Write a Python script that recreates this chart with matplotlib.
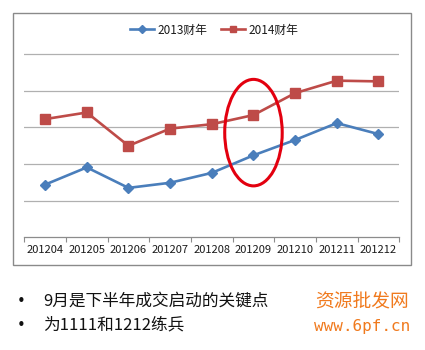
import matplotlib
matplotlib.use("Agg")
import matplotlib.pyplot as plt
from matplotlib.patches import Ellipse, Rectangle
from matplotlib.lines import Line2D
from matplotlib.ticker import FixedLocator, NullFormatter, FixedFormatter

plt.rcParams['font.family'] = ['Noto Sans CJK SC', 'DejaVu Sans']

categories = ['201204', '201205', '201206', '201207', '201208',
              '201209', '201210', '201211', '201212']
fy2013 = [1.44, 1.91, 1.35, 1.49, 1.76, 2.24, 2.66, 3.12, 2.82]
fy2014 = [3.23, 3.41, 2.50, 2.97, 3.09, 3.34, 3.94, 4.28, 4.26]
series_names = ['2013财年', '2014财年']
bullets = ['9月是下半年成交启动的关键点', '为1111和1212练兵']
watermark = ['资源批发网', 'www.6pf.cn']
highlight_index = 5

W, H = 425, 350
fig = plt.figure(figsize=(W / 100, H / 100), dpi=100)
fig.patch.set_facecolor('white')

def fx(px):
    return px / W

def fy(py):
    return 1 - py / H

# chart border
fig.patches.append(Rectangle((fx(13), fy(265)), fx(411) - fx(13), fy(13) - fy(265),
                             transform=fig.transFigure, fill=False,
                             edgecolor='#8a8a8a', linewidth=1.0))

ymax = 5.2
ax_left, ax_right = 24.3, 399.3
ax_bottom = 237.3
unit = (237.3 - 54.3) / 5
ax_top = ax_bottom - unit * ymax
ax = fig.add_axes([fx(ax_left), fy(ax_bottom), fx(ax_right) - fx(ax_left),
                   fy(ax_top) - fy(ax_bottom)])
ax.set_facecolor('none')

x = list(range(len(categories)))
ax.plot(x, fy2013, color='#4a7ebb', linewidth=1.9, marker='D', markersize=5.5,
        markerfacecolor='#4a7ebb', markeredgecolor='#4a7ebb', zorder=3)
ax.plot(x, fy2014, color='#be4b48', linewidth=1.9, marker='s', markersize=6.5,
        markerfacecolor='#be4b48', markeredgecolor='#be4b48', zorder=3)

ax.set_xlim(-0.5, len(categories) - 0.5)
ax.set_ylim(0, ymax)

for gy in range(1, 6):
    ax.axhline(gy, color='#b0b0b0', linewidth=0.9, zorder=1)

for s in ['top', 'right', 'left']:
    ax.spines[s].set_visible(False)
ax.spines['bottom'].set_color('#8c8c8c')
ax.spines['bottom'].set_linewidth(0.9)
ax.set_yticks([])

ax.xaxis.set_major_locator(FixedLocator([i - 0.5 for i in range(len(categories) + 1)]))
ax.xaxis.set_major_formatter(NullFormatter())
ax.xaxis.set_minor_locator(FixedLocator(x))
ax.xaxis.set_minor_formatter(FixedFormatter(categories))
ax.tick_params(axis='x', which='major', length=3.5, width=0.8, color='#8c8c8c', direction='out')
ax.tick_params(axis='x', which='minor', length=0, labelsize=8, pad=5.5, labelcolor='#1a1a1a')

# highlight ellipse
ax.add_patch(Ellipse((highlight_index, 2.86), 1.38, 2.91, fill=False,
                     edgecolor='#e3000f', linewidth=2.2, zorder=4, clip_on=False))

# legend
handles = [Line2D([], [], color='#4a7ebb', marker='D', markersize=4, linewidth=1.9),
           Line2D([], [], color='#be4b48', marker='s', markersize=5, linewidth=1.9)]
fig.legend(handles, series_names, loc='center', bbox_to_anchor=(fx(214), fy(30)),
           ncol=2, frameon=False, fontsize=8.5, handlelength=2.0, handletextpad=0.3,
           columnspacing=1.2, labelcolor='#1a1a1a')

# bullets
for i, t in enumerate(bullets):
    yy = fy(301.5 + i * 23.5)
    fig.text(fx(21.5), yy, '•', fontsize=10.5, va='center', ha='center', color='#111111',
             family=['DejaVu Sans'])
    fig.text(fx(43), yy, t, fontsize=12, va='center', ha='left', color='#111111')

fig.text(fx(362), fy(302), watermark[0], fontsize=13.5, va='center', ha='center',
         color='#f07a1e')
fig.text(fx(362), fy(327), watermark[1], fontsize=11.5, va='center', ha='center',
         color='#f07a1e', family=['DejaVu Sans Mono'])

fig.savefig('out.png', dpi=100, facecolor='white')
